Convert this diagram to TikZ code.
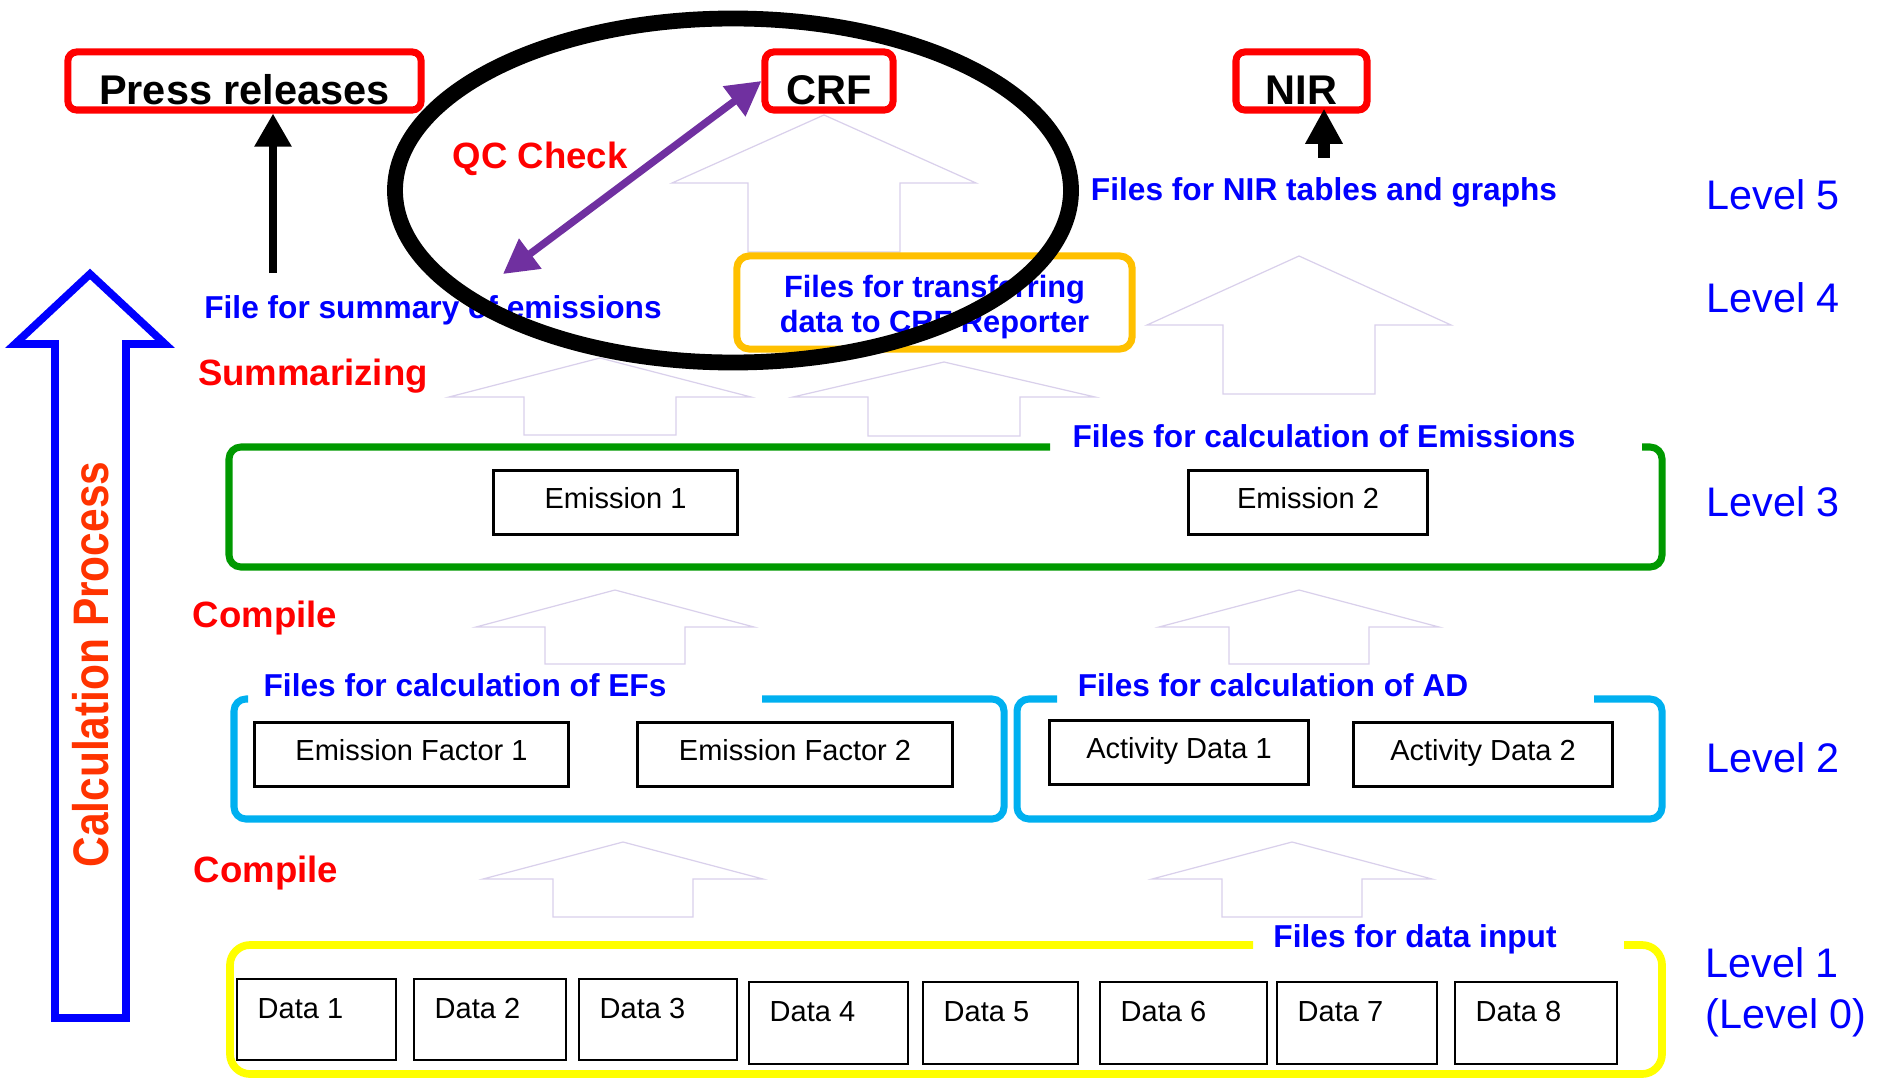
\documentclass[tikz,border=0pt]{standalone}
\usepackage{fontspec}
\setmainfont{Liberation Sans}
\usetikzlibrary{arrows.meta}

\definecolor{pptred}{HTML}{FF0000}
\definecolor{pptcalc}{HTML}{FF3300}
\definecolor{pptblue}{HTML}{0000FF}
\definecolor{pptgreen}{HTML}{009900}
\definecolor{pptcyan}{HTML}{00B0F0}
\definecolor{pptyellow}{HTML}{FFFF00}
\definecolor{pptorange}{HTML}{FFC000}
\definecolor{pptpurple}{HTML}{7030A0}
\definecolor{pptfaint}{HTML}{D9D0EB}

\tikzset{
  redbox/.style={draw=pptred, line width=2pt, rounded corners=2.5pt, inner sep=0pt,
    minimum height=0.58cm, text height=0.46cm, text depth=0pt,
    font=\fontsize{11.8}{14}\selectfont\bfseries},
  orgbox/.style={draw=pptorange, line width=2pt, rounded corners=3.5pt, inner sep=0pt,
    text=pptblue, align=center, font=\fontsize{8.75}{10}\selectfont\bfseries},
  filebox/.style={draw, line width=0.85pt, inner sep=0pt, minimum height=0.63cm,
    text height=0.21cm, text depth=0.1cm, font=\fontsize{8.25}{10}\selectfont},
  databox/.style={draw, line width=0.55pt},
  boxtext/.style={inner sep=0pt, font=\fontsize{8.25}{10}\selectfont},
  bluelbl/.style={text=pptblue, inner sep=0pt, font=\fontsize{9}{11}\selectfont\bfseries},
  redlbl/.style={text=pptred, inner sep=0pt, font=\fontsize{10.4}{12}\selectfont\bfseries},
  levellbl/.style={text=pptblue, inner sep=0pt, font=\fontsize{11.75}{14}\selectfont},
  calclbl/.style={text=pptcalc, inner sep=0pt, font=\fontsize{14.2}{17}\selectfont\bfseries},
  grnframe/.style={draw=pptgreen, line width=2pt, rounded corners=3.4pt},
  cyanframe/.style={draw=pptcyan, line width=2pt, rounded corners=3.4pt},
  ylwframe/.style={draw=pptyellow, line width=2.2pt, rounded corners=5.7pt},
  hollowarrow/.style={draw=pptfaint, line width=0.35pt},
  bigarrow/.style={draw=pptblue, line width=2.2pt, miter limit=20},
  blkarrow/.style={line width=2.3pt, -{Triangle[width=10pt,length=9.4pt]}},
  nirarrow/.style={line width=3.4pt, -{Triangle[width=10pt,length=10pt]}},
  qcarrow/.style={draw=pptpurple, line width=2.1pt,
    {Triangle[width=10.2pt,length=9.7pt]}-{Triangle[width=10.2pt,length=9.7pt]}},
  qcring/.style={line width=4.5pt}
}

\begin{document}
\begin{tikzpicture}[x=0.01cm, y=-0.01cm]
\useasboundingbox (0,0) rectangle (1889,1079);

% faint hollow arrows between the levels
\foreach \tx/\ty/\hw/\sw/\by/\bt in {824/115/152/76/183/252, 1299/256/152/76/325/394,
    600/358/151/76/397/435, 944/362/151/76/397/436,
    615/590/139/70/627/664, 1299/590/140/70/627/664,
    623/842/140/70/879/917, 1292/842/140/70/879/917}
  \draw[hollowarrow] (\tx,\ty) -- ({\tx+\hw},\by) -- ({\tx+\sw},\by) -- ({\tx+\sw},\bt)
    -- ({\tx-\sw},\bt) -- ({\tx-\sw},\by) -- ({\tx-\hw},\by) -- cycle;

% Level frames, open where the titles sit
\draw[grnframe]  (1642,447) -- (1662,447) -- (1662,567) -- (229,567) -- (229,447) -- (1050,447);
\draw[cyanframe] (762,699) -- (1004,699) -- (1004,819) -- (234,819) -- (234,699) -- (248,699);
\draw[cyanframe] (1594,699) -- (1662,699) -- (1662,819) -- (1017,819) -- (1017,699) -- (1057,699);
\draw[ylwframe]  (1624,945) -- (1662,945) -- (1662,1074) -- (230,1074) -- (230,945) -- (1253,945);

% Level 5 outputs
\node[redbox, minimum width=3.53cm] (press) at (244.5,81) {Press releases};
\node[redbox, minimum width=1.28cm] (crf)   at (829,81)   {CRF};
\node[redbox, minimum width=1.31cm] (nir)   at (1301.5,81) {NIR};

% Level 4
\node[orgbox, minimum width=3.95cm, minimum height=0.93cm] (crfrep) at (934.5,302.5)
  {\rule{0pt}{0.32cm}Files for transferring\\data to CRF Reporter};

% Level 3
\node[filebox, minimum width=2.43cm] (em1) at (615.5,502.5) {Emission 1};
\node[filebox, minimum width=2.38cm] (em2) at (1308,502.5)  {Emission 2};

% Level 2
\node[filebox, minimum width=3.13cm] (ef1) at (411.5,754.5) {Emission Factor 1};
\node[filebox, minimum width=3.14cm] (ef2) at (795,754.5)   {Emission Factor 2};
\node[filebox, minimum width=2.58cm] (ad1) at (1179,752.5)  {Activity Data 1};
\node[filebox, minimum width=2.58cm] (ad2) at (1483,754.5)  {Activity Data 2};

% Level 1
\foreach \n/\xa/\xb in {1/237/396, 2/414/566, 3/579/737}{
  \draw[databox] (\xa,979) rectangle (\xb,1060);
  \node[boxtext, anchor=base west] (d\n) at ({\xa+20},1018) {Data \n};
}
\foreach \n/\xa/\xb in {4/749/908, 5/923/1078, 6/1100/1267, 7/1277/1437, 8/1455/1617}{
  \draw[databox, line width=0.8pt] (\xa,982) rectangle (\xb,1064);
  \node[boxtext, anchor=base west] (d\n) at ({\xa+20},1021) {Data \n};
}

% file titles
\node[bluelbl, anchor=base] (sumlbl) at (433,318)  {File for summary of emissions};
\node[bluelbl, anchor=base] (nirlbl) at (1324,200) {Files for NIR tables and graphs};
\node[bluelbl, anchor=base] (emlbl)  at (1324,447) {Files for calculation of Emissions};
\node[bluelbl, anchor=base] (eflbl)  at (465,696)  {Files for calculation of EFs};
\node[bluelbl, anchor=base] (adlbl)  at (1273,696) {Files for calculation of AD};
\node[bluelbl, anchor=base] (inlbl)  at (1415,947) {Files for data input};

% steps
\node[redlbl, anchor=base] (qc)    at (540,169) {QC Check};
\node[redlbl, anchor=base] (summ)  at (313,385) {Summarizing};
\node[redlbl, anchor=base] (comp1) at (265,627) {Compile};
\node[redlbl, anchor=base] (comp2) at (266,882) {Compile};

% level names
\node[levellbl, anchor=base west] (lv5) at (1706,209)  {Level 5};
\node[levellbl, anchor=base west] (lv4) at (1706,312)  {Level 4};
\node[levellbl, anchor=base west] (lv3) at (1706,516)  {Level 3};
\node[levellbl, anchor=base west] (lv2) at (1706,772)  {Level 2};
\node[levellbl, anchor=base west] (lv1) at (1705,977)  {Level 1};
\node[levellbl, anchor=base west] (lv0) at (1705,1028) {(Level 0)};

% process arrow on the left
\draw[bigarrow] (55,1018) -- (55,344) -- (15,344) -- (90,274) -- (165,344)
  -- (126,344) -- (126,1018) -- cycle;
\node[calclbl, rotate=90] (calc) at (90.5,664.5) {\scalebox{0.85}[1]{Calculation Process}};

% output arrows
\coordinate (sumfoot) at (273,273);
\draw[blkarrow] (sumfoot) -- (sumfoot |- press.south);
\coordinate (nirfoot) at (1324,158);
\draw[nirarrow, shorten >=-1.4pt] (nirfoot) -- (nirfoot |- nir.south);

% QC ring
\draw[qcring] (733,190.5) ellipse [x radius=338, y radius=172];
\coordinate (qcfoot) at (503,274);
\draw[qcarrow] (qcfoot) -- (crf.west);

\end{tikzpicture}
\end{document}
